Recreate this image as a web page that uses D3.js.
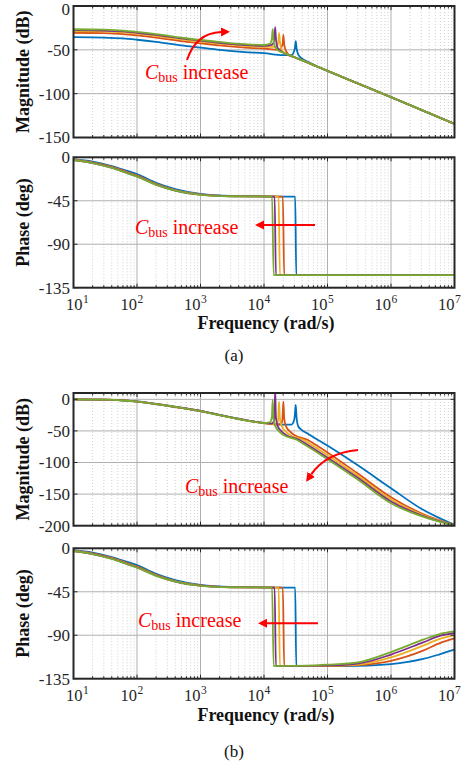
<!DOCTYPE html>
<html>
<head>
<meta charset="utf-8">
<script src="https://cdn.jsdelivr.net/npm/d3@7"></script>
<style>
  body { margin: 0; background: #fff; }
  svg { display: block; }
  svg text { font-family: "Liberation Serif", "DejaVu Serif", serif; }
</style>
</head>
<body>
<svg id="chart" width="468" height="772"></svg>
<script>
// Series colours, in order of increasing bus capacitance (blue -> green)
const seriesColors = ["#0072BD", "#D95319", "#EDB120", "#7E2F8E", "#77AC30"];

// Axis ticks
const freqTicks = [1e1, 1e2, 1e3, 1e4, 1e5, 1e6, 1e7];
const magTicksA = [0, -50, -100, -150];
const magTicksB = [0, -50, -100, -150, -200];
const phaseTicks = [0, -45, -90, -135];

// (a) magnitude, dB — [rad/s, dB] per series
const magA = [
  [[10,-35.5],[30,-36],[60,-37],[100,-38.5],[200,-41],[500,-45],[1000,-47.5],[2000,-50],[5000,-52.5],[10000,-53.8],[20000,-56],[27000,-56],[30500,-49],[31600,-40],[32700,-49],[35000,-56],[40000,-60],[50000,-64],[70000,-69.3],[1e5,-74],[1e6,-104],[1e7,-134.5]],
  [[10,-30.5],[30,-31],[60,-32],[100,-33.5],[200,-36],[500,-40],[1000,-42.5],[2000,-45],[5000,-47.5],[10000,-48.5],[17000,-50],[19600,-44],[20200,-33],[20800,-44],[22500,-52],[25000,-56],[30000,-58.3],[1e5,-74],[1e6,-104],[1e7,-134.5]],
  [[10,-28.5],[30,-29],[60,-30],[100,-31.5],[200,-34],[500,-38],[1000,-40.5],[2000,-43],[5000,-45.5],[10000,-46.5],[15500,-46.5],[16800,-41],[17300,-31],[17800,-41],[19000,-50],[22000,-54.4],[30000,-58.3],[1e5,-74],[1e6,-104],[1e7,-134.5]],
  [[10,-27.5],[30,-28],[60,-29],[100,-30.5],[200,-33],[500,-37],[1000,-39.5],[2000,-42],[5000,-44.5],[10000,-45.5],[13500,-44],[14600,-37],[15000,-24.2],[15400,-37],[16500,-48],[20000,-53.2],[30000,-58.3],[1e5,-74],[1e6,-104],[1e7,-134.5]],
  [[10,-26.5],[30,-27],[60,-28],[100,-29.5],[200,-32],[500,-36],[1000,-38.8],[2000,-41],[5000,-43.5],[10000,-44.5],[12500,-43],[13300,-37],[13700,-26.5],[14100,-38],[15000,-47],[17000,-51],[20000,-53.2],[30000,-58.3],[1e5,-74],[1e6,-104],[1e7,-134.5]]
];

// (a) phase, deg
const phaseA = [
  [[10,-2],[20,-4.5],[40,-9],[70,-14],[100,-17.5],[200,-26.5],[400,-33],[1000,-38],[3000,-40],[31000,-40.7],[32200,-122],[1e7,-122]],
  [[10,-2.5],[20,-5.3],[40,-10],[70,-15.3],[100,-18.8],[200,-27.5],[400,-34],[1000,-38.4],[3000,-40.2],[19800,-40.7],[20800,-122],[1e7,-122]],
  [[10,-2.8],[20,-5.7],[40,-10.5],[70,-16],[100,-19.5],[200,-28],[400,-34.3],[1000,-38.6],[3000,-40.3],[17000,-40.7],[17800,-122],[1e7,-122]],
  [[10,-2.9],[20,-5.9],[40,-10.8],[70,-16.3],[100,-19.8],[200,-28.3],[400,-34.4],[1000,-38.7],[3000,-40.3],[14700,-40.7],[15400,-122],[1e7,-122]],
  [[10,-3],[20,-6],[40,-11],[70,-16.5],[100,-20],[200,-28.5],[400,-34.5],[1000,-38.8],[3000,-40.3],[13400,-40.7],[14200,-122],[1e7,-122]]
];

// (b) magnitude, dB
const magB = [
  [[10,0],[30,-0.4],[60,-1.6],[100,-3.4],[200,-7.2],[500,-13.2],[1000,-18.2],[2000,-24.7],[5000,-32.7],[10000,-37.5],[20000,-40],[27000,-40],[30000,-32],[31000,-18],[31600,-9],[32500,-28],[34700,-43],[39300,-48.5],[46200,-53],[75800,-66],[1.1e5,-76],[3e5,-104.5],[1e6,-140.7],[3e6,-173.2],[1e7,-198.7]],
  [[10,0],[30,-0.5],[60,-1.7],[100,-3.5],[200,-7.4],[500,-13.4],[1000,-18.4],[2000,-24.9],[5000,-32.9],[10000,-37.8],[17000,-40],[19300,-36],[19800,-20],[20200,-3.6],[20800,-30],[22100,-42],[25100,-50],[29500,-56],[48300,-64],[70000,-74],[1e5,-84],[3e5,-117.5],[1e6,-154.9],[3e6,-180.3],[1e7,-199.2]],
  [[10,0],[30,-0.5],[60,-1.8],[100,-3.6],[200,-7.5],[500,-13.5],[1000,-18.5],[2000,-25],[5000,-33],[10000,-37.6],[15000,-39],[16600,-36],[16900,-20],[17300,-3.6],[17800,-30],[19000,-42],[21500,-50],[25300,-56],[41400,-64],[60000,-74],[1e5,-88.4],[3e5,-121],[1e6,-158.5],[3e6,-182],[1e7,-199.4]],
  [[10,0],[30,-0.5],[60,-1.8],[100,-3.6],[200,-7.5],[500,-13.5],[1000,-18.5],[2000,-25],[5000,-33],[10000,-37.5],[13000,-38.5],[14300,-35],[14650,-25],[15000,15],[15400,-28],[16400,-42],[18600,-50],[21900,-56],[35900,-64],[52000,-74],[1e5,-92.3],[3e5,-124.1],[1e6,-161.6],[3e6,-183.6],[1e7,-199.6]],
  [[10,0],[30,-0.6],[60,-1.9],[100,-3.7],[200,-7.7],[500,-13.7],[1000,-18.7],[2000,-25.2],[5000,-33.2],[10000,-37.5],[12500,-36],[13300,-28],[13700,-1],[14100,-30],[15000,-42],[17000,-50],[20000,-56],[32800,-64],[47500,-74],[1e5,-94.7],[3e5,-127],[1e6,-164.4],[3e6,-185],[1e7,-199.8]]
];

// (b) phase, deg
const phaseB = [
  [[10,-2],[20,-4.5],[40,-9],[70,-14],[100,-17.5],[200,-26.5],[400,-33],[1000,-38],[3000,-40],[31000,-40.7],[32200,-122],[1e5,-122],[3e5,-121.7],[1e6,-120],[3.2e6,-114.6],[6e6,-109.5],[1e7,-105]],
  [[10,-2.5],[20,-5.3],[40,-10],[70,-15.3],[100,-18.8],[200,-27.5],[400,-34],[1000,-38.4],[3000,-40.2],[19800,-40.7],[20800,-122],[1e5,-121.8],[3e5,-121],[1e6,-116.5],[3.2e6,-106],[6e6,-98],[1e7,-93.3]],
  [[10,-2.8],[20,-5.7],[40,-10.5],[70,-16],[100,-19.5],[200,-28],[400,-34.3],[1000,-38.6],[3000,-40.3],[17000,-40.7],[17800,-122],[1e5,-121.7],[3e5,-120.5],[1e6,-113],[3.2e6,-100.8],[6e6,-93.5],[1e7,-89.8]],
  [[10,-2.9],[20,-5.9],[40,-10.8],[70,-16.3],[100,-19.8],[200,-28.3],[400,-34.4],[1000,-38.7],[3000,-40.3],[14700,-40.7],[15400,-122],[1e5,-121.5],[3e5,-119.5],[1e6,-110],[3.2e6,-97.4],[6e6,-90.5],[1e7,-87.7]],
  [[10,-3],[20,-6],[40,-11],[70,-16.5],[100,-20],[200,-28.5],[400,-34.5],[1000,-38.8],[3000,-40.3],[13400,-40.7],[14200,-122],[5e4,-121.5],[1e5,-120.5],[3e5,-118],[1e6,-107.4],[3.2e6,-94.6],[6e6,-88.5],[1e7,-86]]
];

const svg = d3.select("#chart");
svg.append("rect").attr("width", 468).attr("height", 772).attr("fill", "#fff");

const x = d3.scaleLog().domain([1e1, 1e7]).range([73.5, 454.5]);
const [xL, xR] = x.range();

// minor log ticks 2..9 within each decade
const minorFreqs = [];
for (let k = 1; k < 7; k++) for (let m = 2; m <= 9; m++) minorFreqs.push(m * Math.pow(10, k));

const panels = [
  { id: "ma", top: 6, bottom: 137.5, domain: [-150, 0], ticks: magTicksA, data: magA, label: "Magnitude (dB)" },
  { id: "pa", top: 157.3, bottom: 287.7, domain: [-135, 0], ticks: phaseTicks, data: phaseA, label: "Phase (deg)", xTickY: 310, xTitleY: 329 },
  { id: "mb", top: 393, bottom: 525.7, domain: [-200, 10], ticks: magTicksB, data: magB, label: "Magnitude (dB)" },
  { id: "pb", top: 548.3, bottom: 678.7, domain: [-135, 0], ticks: phaseTicks, data: phaseB, label: "Phase (deg)", xTickY: 701, xTitleY: 721 }
];

const defs = svg.append("defs");
defs.append("marker")
  .attr("id", "head").attr("markerUnits", "userSpaceOnUse")
  .attr("markerWidth", 12).attr("markerHeight", 12)
  .attr("viewBox", "0 -6 12 12").attr("refX", 0).attr("refY", 0)
  .attr("orient", "auto")
  .append("path").attr("d", "M0,-4.5L9,0L0,4.5Z").attr("fill", "#ff0000");

panels.forEach(p => {
  const y = d3.scaleLinear().domain(p.domain).range([p.bottom, p.top]);
  const g = svg.append("g");

  // minor vertical grid (dotted)
  g.selectAll(".mg").data(minorFreqs).join("line")
    .attr("x1", d => x(d)).attr("x2", d => x(d))
    .attr("y1", p.top).attr("y2", p.bottom)
    .attr("stroke", "#c4c4c4").attr("stroke-width", 0.8).attr("stroke-dasharray", "1,2");

  // major grid
  g.selectAll(".vg").data(freqTicks.slice(1, -1)).join("line")
    .attr("x1", d => x(d)).attr("x2", d => x(d))
    .attr("y1", p.top).attr("y2", p.bottom)
    .attr("stroke", "#b0b0b0").attr("stroke-width", 1);
  g.selectAll(".hg").data(p.ticks.filter(t => y(t) > p.top + 1 && y(t) < p.bottom - 1)).join("line")
    .attr("x1", xL).attr("x2", xR)
    .attr("y1", d => y(d)).attr("y2", d => y(d))
    .attr("stroke", "#b0b0b0").attr("stroke-width", 1);

  // curves
  defs.append("clipPath").attr("id", "clip-" + p.id)
    .append("rect").attr("x", xL).attr("y", p.top).attr("width", xR - xL).attr("height", p.bottom - p.top);
  const line = d3.line().x(d => x(d[0])).y(d => y(d[1])).curve(d3.curveMonotoneX);
  g.append("g").attr("clip-path", `url(#clip-${p.id})`)
    .selectAll("path").data(p.data).join("path")
    .attr("d", line).attr("fill", "none")
    .attr("stroke", (d, i) => seriesColors[i]).attr("stroke-width", 1.8)
    .attr("stroke-linejoin", "round");

  // inward tick marks
  const tk = g.append("g").attr("stroke", "#262626").attr("stroke-width", 1);
  freqTicks.forEach(f => {
    tk.append("line").attr("x1", x(f)).attr("x2", x(f)).attr("y1", p.bottom).attr("y2", p.bottom - 4);
    tk.append("line").attr("x1", x(f)).attr("x2", x(f)).attr("y1", p.top).attr("y2", p.top + 4);
  });
  minorFreqs.forEach(f => {
    tk.append("line").attr("x1", x(f)).attr("x2", x(f)).attr("y1", p.bottom).attr("y2", p.bottom - 2.5);
    tk.append("line").attr("x1", x(f)).attr("x2", x(f)).attr("y1", p.top).attr("y2", p.top + 2.5);
  });
  p.ticks.forEach(t => {
    tk.append("line").attr("x1", xL).attr("x2", xL + 4).attr("y1", y(t)).attr("y2", y(t));
    tk.append("line").attr("x1", xR).attr("x2", xR - 4).attr("y1", y(t)).attr("y2", y(t));
  });

  // frame
  g.append("rect").attr("x", xL).attr("y", p.top).attr("width", xR - xL).attr("height", p.bottom - p.top)
    .attr("fill", "none").attr("stroke", "#262626").attr("stroke-width", 2);

  // y tick labels (top label kept inside the page)
  g.selectAll(".yl").data(p.ticks).join("text")
    .attr("x", xL - 3.5).attr("y", d => Math.max(y(d), 9)).attr("dy", "0.35em")
    .attr("text-anchor", "end").attr("font-size", 17).attr("fill", "#262626")
    .text(d => d);

  // y axis title
  g.append("text")
    .attr("transform", `translate(29,${(p.top + p.bottom) / 2}) rotate(-90)`)
    .attr("text-anchor", "middle").attr("font-weight", "bold")
    .attr("font-size", 18).attr("fill", "#111").text(p.label);

  // x tick labels and title for the phase panels
  if (p.xTickY) {
    freqTicks.forEach(f => {
      const px = Math.max(x(f), xL + 9);
      g.append("text").attr("x", px).attr("y", p.xTickY).attr("text-anchor", "end")
        .attr("font-size", 16.5).attr("fill", "#262626").text("10");
      g.append("text").attr("x", px + 0.5).attr("y", p.xTickY - 7).attr("text-anchor", "start")
        .attr("font-size", 11.5).attr("fill", "#262626").text(Math.round(Math.log10(f)));
    });
    g.append("text").attr("x", 266).attr("y", p.xTitleY).attr("text-anchor", "middle")
      .attr("font-weight", "bold").attr("font-size", 18).attr("fill", "#111")
      .text("Frequency (rad/s)");
  }
});

// sub-figure captions
[["(a)", 361], ["(b)", 757]].forEach(([t, yy]) => {
  svg.append("text").attr("x", 234).attr("y", yy).attr("text-anchor", "middle")
    .attr("font-size", 17).attr("fill", "#111").text(t);
});

// "C_bus increase" annotations with red arrows
const notes = [
  { x: 145, y: 79, arrow: "M187,60 Q196,33 221,32" },
  { x: 135, y: 234, arrow: "M315,225 L264,225" },
  { x: 185, y: 493, arrow: "M358,450 Q326,453 311.2,474.4" },
  { x: 138, y: 627, arrow: "M318,623.3 L267,623.3" }
];
notes.forEach(n => {
  const t = svg.append("text").attr("x", n.x).attr("y", n.y)
    .attr("font-size", 20).attr("fill", "#ff0000");
  t.append("tspan").attr("font-style", "italic").text("C");
  t.append("tspan").attr("font-size", 14).attr("dy", 3).text("bus");
  t.append("tspan").attr("dy", -3).text(" increase");
  svg.append("path").attr("d", n.arrow).attr("fill", "none")
    .attr("stroke", "#ff0000").attr("stroke-width", 2).attr("marker-end", "url(#head)");
});
</script>
</body>
</html>
